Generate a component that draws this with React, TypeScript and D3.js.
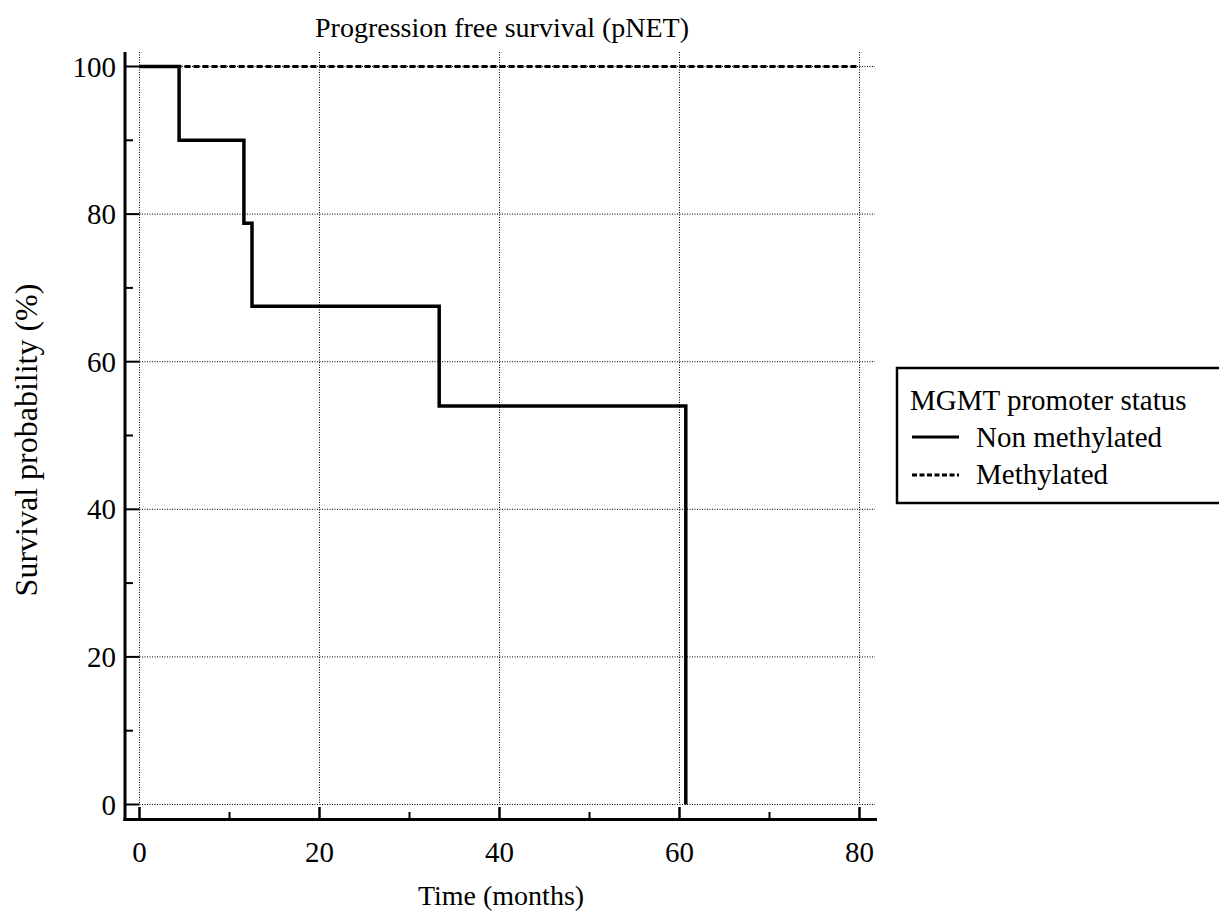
import React from "react";
import * as d3 from "d3";

const title = "Progression free survival (pNET)";
const xLabel = "Time (months)";
const yLabel = "Survival probability (%)";
const legendTitle = "MGMT promoter status";
const seriesNames = ["Non methylated", "Methylated"];

const xMajorTicks = [0, 20, 40, 60, 80];
const xMinorTicks = [10, 30, 50, 70];
const yMajorTicks = [0, 20, 40, 60, 80, 100];
const yMinorTicks = [10, 30, 50, 70, 90];

// Kaplan-Meier step curves: time (months), survival (%)
const nonMethTimes = [0, 4.4, 11.6, 12.5, 33.3, 60.7];
const nonMethSurv = [100, 90, 78.75, 67.5, 54, 0];
const methTimes = [0, 80];
const methSurv = [100, 100];

const FONT = "'Liberation Serif', 'Times New Roman', serif";

function stepPath(times: number[], surv: number[], x: d3.ScaleLinear<number, number>, y: d3.ScaleLinear<number, number>) {
  const pts: [number, number][] = [];
  for (let i = 0; i < times.length; i++) {
    if (i > 0) pts.push([times[i], surv[i - 1]]);
    pts.push([times[i], surv[i]]);
  }
  return d3.line<[number, number]>().x((d) => x(d[0])).y((d) => y(d[1]))(pts) || "";
}

export default function App() {
  const W = 1219;
  const H = 918;
  const x = d3.scaleLinear().domain([0, 80]).range([139.5, 859.5]);
  const y = d3.scaleLinear().domain([0, 100]).range([804.5, 66.5]);
  const axisX = 125;
  const axisY = 819.5;
  const fsTick = 29;
  const fsLegend = 29;

  return (
    <svg width={W} height={H} style={{ position: "absolute", left: 0, top: 0, background: "#fff" }} fontFamily={FONT}>
      <rect x={0} y={0} width={W} height={H} fill="#fff" />
      {/* grid */}
      {xMajorTicks.map((t) => (
        <line key={"gx" + t} x1={x(t)} x2={x(t)} y1={52} y2={y(0)} stroke="#000" strokeWidth={1} strokeDasharray="1,1.5" />
      ))}
      {yMajorTicks.map((t) => (
        <line key={"gy" + t} x1={x(0)} x2={875} y1={y(t)} y2={y(t)} stroke="#000" strokeWidth={1} strokeDasharray="1,1.5" />
      ))}
      {/* axes */}
      <line x1={axisX} x2={axisX} y1={52} y2={axisY + 1.5} stroke="#000" strokeWidth={3} />
      <line x1={axisX - 1.5} x2={877} y1={axisY} y2={axisY} stroke="#000" strokeWidth={3} />
      {yMajorTicks.map((t) => (
        <line key={"ty" + t} x1={axisX} x2={x(0)} y1={y(t)} y2={y(t)} stroke="#000" strokeWidth={2} />
      ))}
      {yMinorTicks.map((t) => (
        <line key={"tym" + t} x1={axisX} x2={axisX + 8} y1={y(t)} y2={y(t)} stroke="#000" strokeWidth={2} />
      ))}
      {xMajorTicks.map((t) => (
        <line key={"tx" + t} x1={x(t)} x2={x(t)} y1={axisY} y2={807} stroke="#000" strokeWidth={2.5} />
      ))}
      {xMinorTicks.map((t) => (
        <line key={"txm" + t} x1={x(t)} x2={x(t)} y1={axisY} y2={812} stroke="#000" strokeWidth={2} />
      ))}
      {/* tick labels */}
      {xMajorTicks.map((t) => (
        <text key={"lx" + t} x={x(t)} y={862} textAnchor="middle" fontSize={fsTick} fill="#000">{t}</text>
      ))}
      {yMajorTicks.map((t) => (
        <text key={"ly" + t} x={116} y={y(t) + 10} textAnchor="end" fontSize={fsTick} fill="#000">{t}</text>
      ))}
      {/* curves */}
      <path d={stepPath(methTimes, methSurv, x, y)} fill="none" stroke="#000" strokeWidth={3} strokeDasharray="6,3" />
      <path d={stepPath(nonMethTimes, nonMethSurv, x, y)} fill="none" stroke="#000" strokeWidth={3.5} strokeLinejoin="miter" strokeLinecap="butt" />
      {/* title & labels */}
      <text x={502} y={37} textAnchor="middle" fontSize={28} fill="#000">{title}</text>
      <text x={501} y={905} textAnchor="middle" fontSize={28} fill="#000">{xLabel}</text>
      <text transform={`translate(37,440) rotate(-90)`} textAnchor="middle" fontSize={32} fill="#000">{yLabel}</text>
      {/* legend */}
      <rect x={897} y={368} width={340} height={135} fill="#fff" stroke="#000" strokeWidth={2.5} />
      <text x={910} y={410} fontSize={fsLegend} fill="#000">{legendTitle}</text>
      <line x1={912} x2={959} y1={437} y2={437} stroke="#000" strokeWidth={3} />
      <text x={976} y={447} fontSize={fsLegend} fill="#000">{seriesNames[0]}</text>
      <line x1={912} x2={959} y1={475} y2={475} stroke="#000" strokeWidth={3} strokeDasharray="5,2.5" />
      <text x={976} y={484} fontSize={fsLegend} fill="#000">{seriesNames[1]}</text>
    </svg>
  );
}
